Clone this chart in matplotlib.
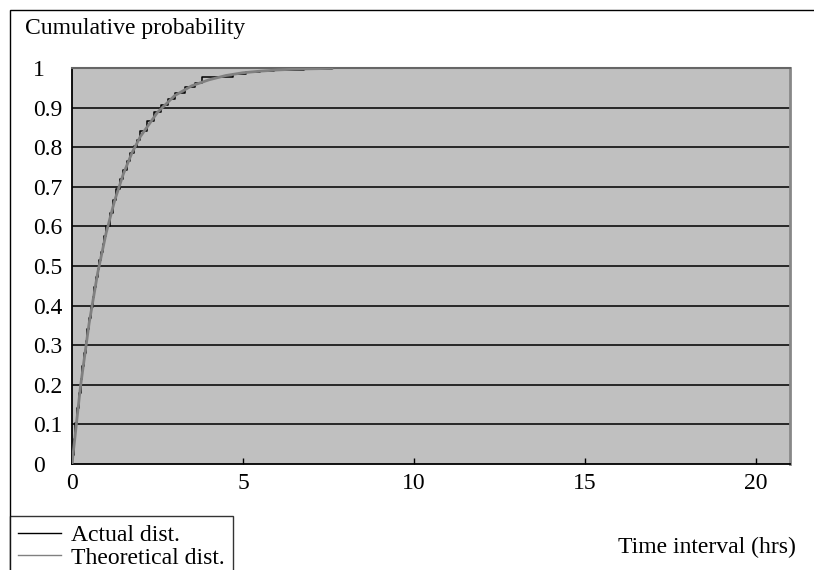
import matplotlib
matplotlib.use("Agg")
import matplotlib.pyplot as plt
from matplotlib.patches import Rectangle

plt.rcParams['font.family'] = ['Liberation Serif', 'DejaVu Serif']

# Theoretical distribution
theo_x = [0, 0.25, 0.5, 0.75, 1.0, 1.25, 1.5, 1.75, 2.0, 2.5, 3.0, 3.5, 4.0, 4.5,
          5.0, 5.5, 6.0, 6.5, 7.0, 7.6]
theo_y = [0, 0.197, 0.355, 0.482, 0.584, 0.666, 0.732, 0.785, 0.827, 0.888, 0.930,
          0.955, 0.970, 0.981, 0.988, 0.992, 0.995, 0.997, 0.998, 0.999]

# Actual (empirical) distribution, step points
act_x = [0, 0.05, 0.1, 0.15, 0.2, 0.25, 0.3, 0.35, 0.4, 0.45, 0.5, 0.55, 0.6, 0.65,
         0.7, 0.75, 0.8, 0.85, 0.9, 0.95, 1.0, 1.1, 1.2, 1.3, 1.4, 1.5, 1.6, 1.7,
         1.8, 1.9, 2.0, 2.2, 2.4, 2.6, 2.8, 3.0, 3.3, 3.6, 3.8, 4.7, 5.1, 5.5, 5.9,
         6.8, 7.6]
act_y = [0.022, 0.064, 0.104, 0.142, 0.179, 0.214, 0.248, 0.280, 0.311, 0.341,
         0.369, 0.396, 0.422, 0.447, 0.471, 0.493, 0.515, 0.536, 0.556, 0.575,
         0.602, 0.635, 0.666, 0.694, 0.720, 0.743, 0.765, 0.785, 0.803, 0.819,
         0.841, 0.867, 0.888, 0.906, 0.921, 0.937, 0.951, 0.961, 0.978, 0.986,
         0.990, 0.993, 0.996, 0.998, 1.0]

yticks = [0, 0.1, 0.2, 0.3, 0.4, 0.5, 0.6, 0.7, 0.8, 0.9, 1]
ytick_labels = ['0', '0.1', '0.2', '0.3', '0.4', '0.5', '0.6', '0.7', '0.8', '0.9', '1']
xticks = [0, 5, 10, 15, 20]

FS = 17
W, H = 814, 570
fig = plt.figure(figsize=(W / 100, H / 100), dpi=100)
fig.patch.set_facecolor('white')

ax = fig.add_axes([72 / W, 1 - 464 / H, (790 - 72) / W, (464 - 68) / H])
ax.set_facecolor('#c0c0c0')

for yv in yticks[1:-1]:
    ax.axhline(yv, color='#1a1a1a', lw=1.3, zorder=1)

ax.plot(act_x, act_y, color='black', lw=1.1, drawstyle='steps-post', zorder=3,
        label='Actual dist.')
ax.plot(theo_x, theo_y, color='#808080', lw=2.0, zorder=4, label='Theoretical dist.')

ax.set_xlim(0, 21)
ax.set_ylim(0, 1)
ax.set_xticks(xticks)
ax.set_xticklabels([str(v) for v in xticks])
ax.set_yticks(yticks)
ax.set_yticklabels(ytick_labels)
ax.tick_params(axis='x', direction='in', length=4, width=1, pad=6.5, labelsize=FS)
ax.tick_params(axis='y', length=0, pad=28, labelsize=FS)
for lab in ax.get_yticklabels():
    lab.set_horizontalalignment('left')

for side in ['left', 'bottom']:
    ax.spines[side].set_color('black')
    ax.spines[side].set_linewidth(1.3)
ax.spines['top'].set_color('#666666')
ax.spines['top'].set_linewidth(1.5)
ax.spines['right'].set_color('#888888')
ax.spines['right'].set_linewidth(2)

fig.text(25 / W, 1 - 34 / H, 'Cumulative probability', fontsize=FS,
         ha='left', va='baseline')
fig.text(796 / W, 1 - 553 / H, 'Time interval (hrs)', fontsize=FS,
         ha='right', va='baseline')

# figure border
fig.patches.append(Rectangle((10 / W, -0.1), 1.0, (H - 10) / H + 0.1,
                             transform=fig.transFigure, fill=False,
                             edgecolor='black', lw=1.0))

h, l = ax.get_legend_handles_labels()
leg = fig.legend(h, l, loc='upper left',
                 bbox_to_anchor=(10 / W, 1 - 516 / H), fontsize=FS,
                 frameon=True, fancybox=False, edgecolor='black',
                 borderaxespad=0, borderpad=0.35, handlelength=1.8,
                 handletextpad=0.42, labelspacing=0.05)
leg.get_frame().set_linewidth(1.0)
for line in leg.get_lines():
    line.set_linewidth(1.0)

fig.savefig('out.png', dpi=100)
